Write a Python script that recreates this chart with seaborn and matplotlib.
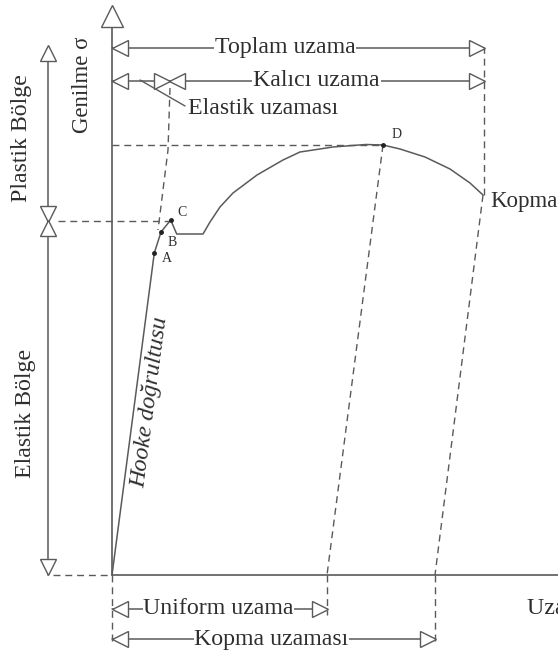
import numpy as np
import pandas as pd
import seaborn as sns
from matplotlib import pyplot as plt

# stress-strain curve (strain, stress) in diagram units, origin at the axes corner
curve_strain = [0, 42.3, 49, 58.7, 64.7, 91, 98, 108, 121, 145, 171, 188, 221, 254, 271,
                288, 313, 338, 358, 371]
curve_stress = [0, 322, 343, 355, 341, 341, 353, 368, 382, 400, 415, 423, 428, 430.5, 430,
                426, 418, 406, 392, 380]

point_names = ["A", "B", "C", "D"]
point_strain = [42.3, 49, 58.7, 271]
point_stress = [322, 343, 355, 430]

kopma_point = (371, 380)
uniform_end = 215      # where the unloading line from D meets the strain axis
kopma_end = 323        # where the unloading line from Kopma meets the strain axis
total_end = 372
elastic_end = 58
yield_stress = 354.3
peak_stress = 430

LINE = "#5a5a5a"
TEXT = "#2e2e2e"
FS = 17.2

sns.set_style("white")
plt.rcParams['font.family'] = ['Liberation Serif', 'DejaVu Serif']

fig = plt.figure(figsize=(5.58, 6.55), dpi=100)
ax = fig.add_axes([0, 0, 1, 1])
ax.set_xlim(-112, 446)
ax.set_ylim(-80, 575)
ax.axis("off")

data = pd.DataFrame({"strain": curve_strain, "stress": curve_stress})
sns.lineplot(data=data, x="strain", y="stress", sort=False, estimator=None,
             color=LINE, linewidth=1.1, ax=ax)
ax.plot(point_strain, point_stress, "o", color="#222222", markersize=2.5, zorder=5)

# axes
ax.plot([0, 0], [0, 553], color=LINE, lw=1.2)
ax.plot([0, 446], [0, 0], color=LINE, lw=1.2)

def head(x, y, m, ms=11):
    ax.plot([x], [y], marker=m, markersize=ms, markerfacecolor="white",
            markeredgecolor=LINE, markeredgewidth=1.0, linestyle="none", zorder=6)

head(0, 559, "^", ms=16)

dash = dict(color=LINE, lw=1.0, dashes=(5, 3.5))
# dashed helper lines
ax.plot([-54, elastic_end], [yield_stress, yield_stress], **dash)
ax.plot([0, 271], [peak_stress, peak_stress], **dash)
ax.plot([-59, 0], [0, 0], **dash)
ax.plot([271, uniform_end], [peak_stress, 0], **dash)
ax.plot([kopma_point[0], kopma_end], [kopma_point[1], 0], **dash)
ax.plot([total_end, total_end], [kopma_point[1], 527], **dash)
ax.plot([58, 56, 46], [487, 425, 345], **dash)
ax.plot([0, 0], [0, -66], **dash)
ax.plot([uniform_end, uniform_end], [0, -40], **dash)
ax.plot([kopma_end, kopma_end], [0, -70], **dash)

# region arrows on the left
ax.plot([-64.3, -64.3], [0, 522], color=LINE, lw=1.1)
head(-64.3, 522.5, "^", ms=12)
head(-64.3, 361.3, "v", ms=11)
head(-64.3, 347.3, "^", ms=11)
head(-64.3, 8.5, "v", ms=12)

# elongation rows on top
box = dict(facecolor="white", edgecolor="none", pad=0.5)
ax.plot([0, total_end], [527.3, 527.3], color=LINE, lw=1.1)
head(8, 527.3, "<")
head(365.3, 527.3, ">")
ax.text(173, 527.3, "Toplam uzama", fontsize=FS, color=TEXT, ha="center", va="center", bbox=box)

ax.plot([0, total_end], [494, 494], color=LINE, lw=1.1)
head(8, 494, "<")
head(365.3, 494, ">")
head(50, 494, ">")
head(64.5, 494, "<")
ax.text(204.5, 494, "Kalıcı uzama", fontsize=FS, color=TEXT, ha="center", va="center", bbox=box)
ax.plot([28, 73], [495, 469], color=LINE, lw=1.0)
ax.text(76, 467, "Elastik uzaması", fontsize=FS, color=TEXT, ha="left", va="center")

# elongation rows at the bottom
ax.plot([0, uniform_end], [-34, -34], color=LINE, lw=1.1)
head(8, -34, "<")
head(208, -34, ">")
ax.text(106.5, -34, "Uniform uzama", fontsize=FS, color=TEXT, ha="center", va="center", bbox=box)

ax.plot([0, kopma_end], [-64, -64], color=LINE, lw=1.1)
head(8, -64, "<")
head(315.5, -64, ">")
ax.text(159.5, -64, "Kopma uzaması", fontsize=FS, color=TEXT, ha="center", va="center", bbox=box)

# labels
ax.text(-29, 490, "Genilme σ", fontsize=16.5, color=TEXT, rotation=90, ha="center", va="center")
ax.text(-90, 437, "Plastik Bölge", fontsize=FS, color=TEXT, rotation=90, ha="center", va="center")
ax.text(-86, 162, "Elastik Bölge", fontsize=FS, color=TEXT, rotation=90, ha="center", va="center")
ax.text(38, 173, "Hooke doğrultusu", fontsize=FS, color=TEXT, rotation=82.5, style="italic",
        ha="center", va="center", rotation_mode="anchor")
ax.text(378, 373, "Kopma", fontsize=16.5, color=TEXT, ha="left", va="center")
ax.text(415, -34, "Uzama ε", fontsize=FS, color=TEXT, ha="left", va="center")

label_offsets = [(7.4, -5), (7, -10), (6.3, 7), (8.7, 10)]
for name, x, y, (dx, dy) in zip(point_names, point_strain, point_stress, label_offsets):
    ax.text(x + dx, y + dy, name, fontsize=10, color=TEXT, ha="left", va="center")

plt.savefig("out.png", dpi=100)
